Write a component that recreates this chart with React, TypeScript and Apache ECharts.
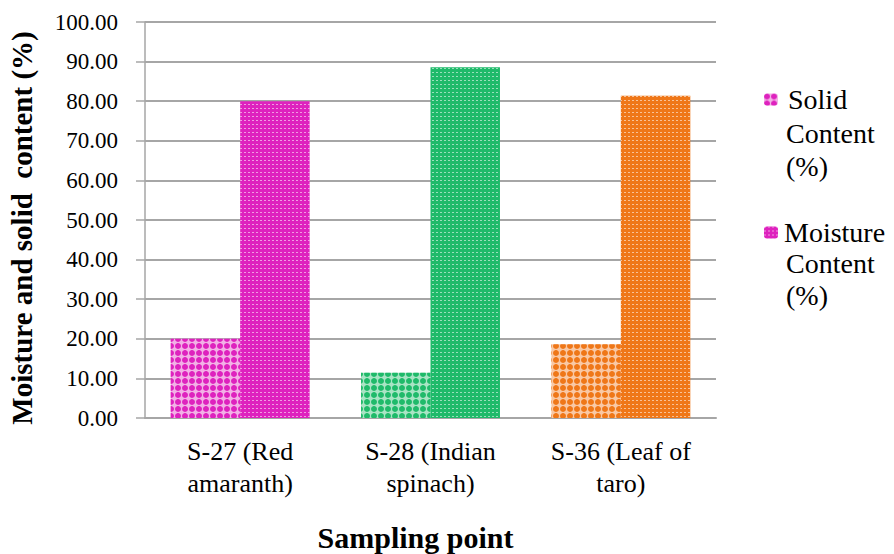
import React, { useEffect, useRef } from "react";
import * as echarts from "echarts";

const categories = ["S-27 (Red\namaranth)", "S-28 (Indian\nspinach)", "S-36 (Leaf of\ntaro)"];
const solidContent = [20.0, 11.4, 18.6];
const moistureContent = [80.0, 88.6, 81.4];
const seriesNames = ["Solid Content (%)", "Moisture Content (%)"];
const pointColors = ["#DE22BE", "#1FBA6A", "#EF7718"];
const lightColors = ["#F2B0E6", "#A8E4C4", "#F9C8A4"];
const yTicks = { min: 0, max: 100, interval: 10 };

const FONT = "'Liberation Serif', 'Times New Roman', serif";

function solidDecal(c: string) {
  return {
    symbol: "circle",
    symbolSize: 1,
    color: c,
    dashArrayX: [[6, 1]],
    dashArrayY: [6, 1],
    rotation: 0,
  };
}
function moistDecal() {
  return {
    symbol: "rect",
    symbolSize: 1,
    color: "rgba(255,255,255,0.55)",
    dashArrayX: [[2, 2]],
    dashArrayY: [1, 3],
    rotation: 0,
  };
}

export default function App() {
  const ref = useRef<HTMLDivElement>(null);
  useEffect(() => {
    if (!ref.current) return;
    const chart = echarts.init(ref.current, undefined, { renderer: "svg" });
    const legendText = { fontFamily: FONT, fontSize: 28, color: "#000", lineHeight: 33 };
    const option: any = {
      animation: false,
      backgroundColor: "#ffffff",
      grid: { left: 145, right: 178, top: 22, bottom: 136, containLabel: false, outerBoundsMode: "none" },
      legend: [
        {
          data: [seriesNames[0]],
          orient: "vertical",
          left: 764,
          top: 83,
          padding: 0,
          itemWidth: 14,
          itemHeight: 12,
          itemGap: 0,
          selectedMode: false,
          formatter: () => " Solid",
          textStyle: { ...legendText, padding: [0, 0, 0, -2] },
        },
        {
          data: [seriesNames[1]],
          orient: "vertical",
          left: 764,
          top: 216,
          padding: 0,
          itemWidth: 14,
          itemHeight: 12,
          itemGap: 0,
          selectedMode: false,
          formatter: () => "Moisture",
          textStyle: { ...legendText, padding: [0, 0, 0, 1] },
        },
      ],
      graphic: [
        {
          type: "text",
          left: 786,
          top: 117,
          style: { text: "Content\n(%)", font: `28px ${FONT}`, lineHeight: 33, fill: "#000" },
        },
        {
          type: "text",
          left: 786,
          top: 247,
          style: { text: "Content\n(%)", font: `28px ${FONT}`, lineHeight: 32, fill: "#000" },
        },
      ],
      xAxis: {
        type: "category",
        data: categories,
        name: "Sampling point",
        nameLocation: "middle",
        nameGap: 104,
        nameTextStyle: {
          fontFamily: FONT,
          fontSize: 30,
          fontWeight: "bold",
          color: "#000",
          padding: [0, 30, 0, 0],
        },
        axisLine: { lineStyle: { color: "#A6A6A6", width: 2 } },
        axisTick: { show: false },
        axisLabel: { fontFamily: FONT, fontSize: 26, color: "#000", lineHeight: 32, margin: 17 },
      },
      yAxis: {
        type: "value",
        min: yTicks.min,
        max: yTicks.max,
        interval: yTicks.interval,
        name: "Moisture and solid  content (%)",
        nameLocation: "middle",
        nameGap: 109,
        nameTextStyle: {
          fontFamily: FONT,
          fontSize: 29,
          fontWeight: "bold",
          color: "#000",
          padding: [0, 16, 0, 0],
        },
        axisLine: { show: true, lineStyle: { color: "#A6A6A6", width: 1.5 } },
        axisTick: { show: true, length: 9, lineStyle: { color: "#A6A6A6", width: 1.5 } },
        splitLine: { show: true, lineStyle: { color: "#A6A6A6", width: 2 } },
        axisLabel: {
          fontFamily: FONT,
          fontSize: 23,
          color: "#000",
          margin: 27,
          formatter: (v: number) => v.toFixed(2),
        },
      },
      series: [
        {
          name: seriesNames[0],
          type: "bar",
          barGap: "0%",
          barCategoryGap: "27%",
          itemStyle: { color: lightColors[0], decal: solidDecal(pointColors[0]) },
          data: solidContent.map((v, i) => ({
            value: v,
            itemStyle: { color: lightColors[i], decal: solidDecal(pointColors[i]) },
          })),
        },
        {
          name: seriesNames[1],
          type: "bar",
          barGap: "0%",
          barCategoryGap: "27%",
          itemStyle: { color: pointColors[0], decal: moistDecal() },
          data: moistureContent.map((v, i) => ({
            value: v,
            itemStyle: { color: pointColors[i], decal: moistDecal() },
          })),
        },
      ],
    };
    chart.setOption(option);
    return () => chart.dispose();
  }, []);
  return <div ref={ref} style={{ width: 894, height: 554, position: "absolute", left: 0, top: 0 }} />;
}
